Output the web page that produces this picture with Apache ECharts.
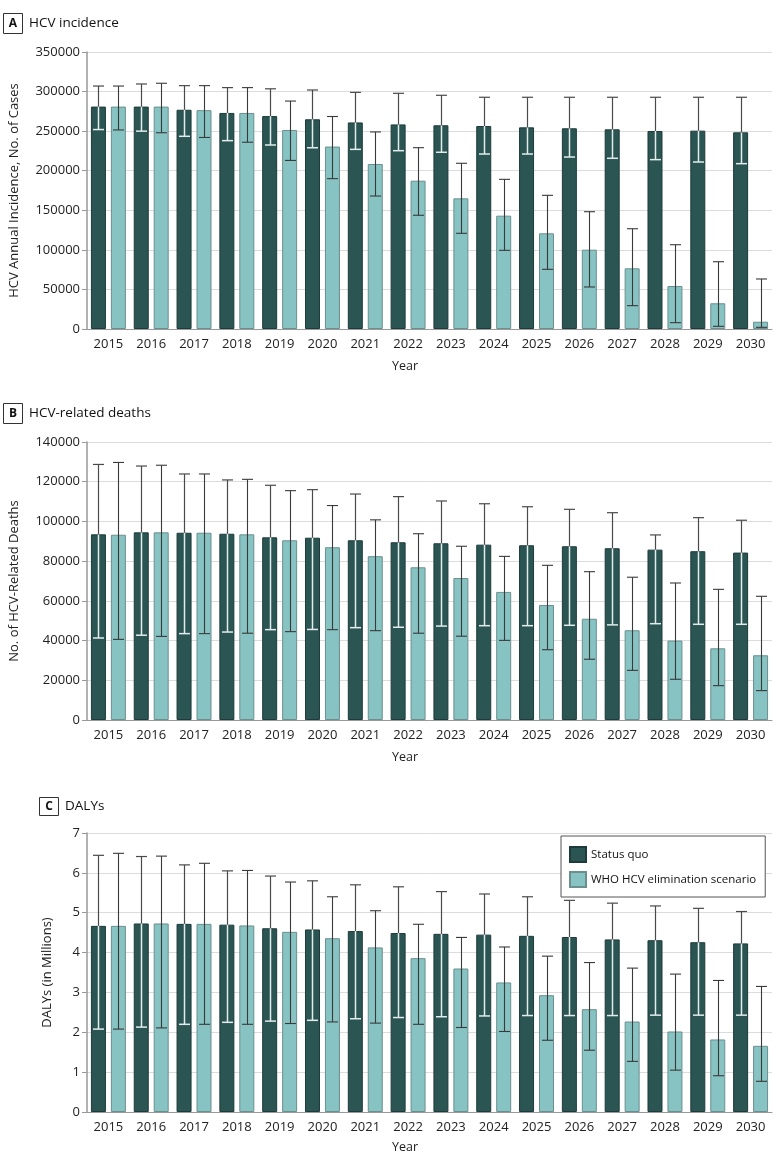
<!DOCTYPE html>
<html>
<head>
<meta charset="utf-8">
<script src="https://cdn.jsdelivr.net/npm/echarts@6/dist/echarts.min.js"></script>
<style>
html,body{margin:0;padding:0;background:#fff;}
#chart{width:780px;height:1166px;}
</style>
</head>
<body>
<div id="chart"></div>
<script>
var years = ['2015','2016','2017','2018','2019','2020','2021','2022','2023','2024','2025','2026','2027','2028','2029','2030'];

// Panel A: HCV incidence
var aSQ    = [281000, 281000, 277000, 273000, 269000, 265000, 261000, 258500, 257400, 256500, 254800, 253600, 252300, 250200, 250600, 248500];
var aSQHi  = [307000, 309600, 307500, 305000, 303500, 302000, 299000, 297800, 295300, 292800, 292800, 292800, 292800, 292800, 292800, 292800];
var aSQLo  = [252000, 250000, 243500, 238000, 232500, 229000, 227000, 225300, 223300, 221100, 221100, 217300, 215700, 214000, 211000, 208900];
var aWHO   = [281000, 281000, 276500, 273000, 251500, 230500, 208500, 187400, 165100, 143200, 120900, 100200, 76700, 54300, 32500, 9200];
var aWHOHi = [307000, 310500, 307500, 305000, 288000, 268500, 249000, 229100, 209400, 189100, 168900, 148200, 126700, 106500, 85000, 63200];
var aWHOLo = [251500, 248000, 242000, 236000, 213000, 190000, 168000, 143700, 120900, 99400, 75400, 53100, 29500, 8000, 3400, 2100];

// Panel B: HCV-related deaths
var bSQ    = [93500, 94500, 94300, 93800, 92000, 91800, 90500, 89500, 89000, 88300, 88000, 87500, 86500, 85800, 85000, 84300];
var bSQHi  = [128700, 127900, 123900, 120900, 118200, 116000, 113800, 112500, 110300, 108900, 107400, 106100, 104400, 93200, 101900, 100600];
var bSQLo  = [41300, 42700, 43500, 44300, 45500, 45600, 46500, 46700, 47300, 47500, 47500, 47700, 47900, 48500, 48200, 48200];
var bWHO   = [93300, 94500, 94300, 93500, 90500, 87000, 82500, 76900, 71500, 64500, 57900, 51000, 45200, 40000, 36100, 32600];
var bWHOHi = [129700, 128300, 123900, 121200, 115500, 108000, 100800, 93800, 87500, 82400, 77900, 74700, 71900, 69000, 65800, 62300];
var bWHOLo = [40600, 42100, 43500, 43700, 44500, 45500, 45000, 43700, 42200, 40100, 35400, 30600, 25000, 20500, 17300, 14800];

// Panel C: DALYs (millions)
var cSQ    = [4.67, 4.73, 4.72, 4.70, 4.61, 4.58, 4.54, 4.49, 4.47, 4.45, 4.42, 4.39, 4.33, 4.31, 4.26, 4.23];
var cSQHi  = [6.44, 6.41, 6.20, 6.05, 5.92, 5.80, 5.70, 5.65, 5.53, 5.47, 5.40, 5.31, 5.24, 5.17, 5.11, 5.03];
var cSQLo  = [2.08, 2.13, 2.20, 2.25, 2.28, 2.30, 2.34, 2.37, 2.39, 2.41, 2.42, 2.42, 2.42, 2.43, 2.43, 2.43];
var cWHO   = [4.67, 4.73, 4.72, 4.68, 4.52, 4.36, 4.13, 3.86, 3.60, 3.25, 2.93, 2.58, 2.27, 2.02, 1.82, 1.66];
var cWHOHi = [6.49, 6.42, 6.24, 6.06, 5.77, 5.40, 5.05, 4.71, 4.38, 4.14, 3.91, 3.75, 3.61, 3.46, 3.30, 3.15];
var cWHOLo = [2.08, 2.11, 2.20, 2.20, 2.22, 2.26, 2.23, 2.20, 2.12, 2.02, 1.80, 1.55, 1.27, 1.05, 0.91, 0.77];

var FONT = "'Open Sans', 'Noto Sans', sans-serif";
var DARK = '#2b5553', LIGHT = '#86c3c2';
var BARW = 15, OFFSET = 10;

function errData(lo, hi, v) {
  return v.map(function (val, i) { return [i, lo[i], hi[i], val]; });
}

function makeRender(offset, dark) {
  return function (params, api) {
    var x = api.value(0), lo = api.value(1), hi = api.value(2), v = api.value(3);
    var pLo = api.coord([x, lo]), pHi = api.coord([x, hi]), pV = api.coord([x, v]);
    var cx = Math.round(pLo[0] + offset) + 0.5;
    var hw = 5.5;
    var ch = [];
    var darkC = '#4a4a4a', lightC = '#e2ecec';
    if (dark) {
      ch.push({type: 'line', shape: {x1: cx, y1: pLo[1], x2: cx, y2: pV[1]}, style: {stroke: lightC, lineWidth: 1.5}});
      ch.push({type: 'line', shape: {x1: cx - hw, y1: pLo[1], x2: cx + hw, y2: pLo[1]}, style: {stroke: lightC, lineWidth: 1.5}});
      ch.push({type: 'line', shape: {x1: cx, y1: pV[1], x2: cx, y2: pHi[1]}, style: {stroke: darkC, lineWidth: 1.2}});
      ch.push({type: 'line', shape: {x1: cx - hw, y1: pHi[1], x2: cx + hw, y2: pHi[1]}, style: {stroke: darkC, lineWidth: 1.2}});
    } else {
      ch.push({type: 'line', shape: {x1: cx, y1: pLo[1], x2: cx, y2: pHi[1]}, style: {stroke: '#3a3a3a', lineWidth: 1.1}});
      ch.push({type: 'line', shape: {x1: cx - hw, y1: pLo[1], x2: cx + hw, y2: pLo[1]}, style: {stroke: '#3a3a3a', lineWidth: 1.1}});
      ch.push({type: 'line', shape: {x1: cx - hw, y1: pHi[1], x2: cx + hw, y2: pHi[1]}, style: {stroke: '#3a3a3a', lineWidth: 1.1}});
    }
    return {type: 'group', children: ch};
  };
}

var grids = [
  {left: 87, right: 8, top: 52, height: 277},
  {left: 87, right: 8, top: 442, height: 278},
  {left: 87, right: 8, top: 833, height: 279}
];

function xAx(i) {
  return {
    type: 'category', gridIndex: i, data: years, boundaryGap: true,
    axisLine: {lineStyle: {color: '#999', width: 1}},
    axisTick: {show: false},
    axisLabel: {color: '#222', fontFamily: FONT, fontSize: 13, margin: 9}
  };
}
function yAx(i, max, interval, name, gap) {
  return {
    type: 'value', gridIndex: i, min: 0, max: max, interval: interval,
    name: name, nameLocation: 'middle', nameGap: gap,
    nameTextStyle: {color: '#222', fontFamily: FONT, fontSize: 13},
    axisLine: {show: true, lineStyle: {color: '#999', width: 1.5}},
    axisTick: {show: true, length: 5, lineStyle: {color: '#999'}},
    axisLabel: {color: '#222', fontFamily: FONT, fontSize: 13, margin: 7,
      formatter: function (v) { return String(v); }},
    splitLine: {lineStyle: {color: '#dcdcdc', width: 1}}
  };
}

var series = [];
var panels = [
  [aSQ, aSQLo, aSQHi, aWHO, aWHOLo, aWHOHi],
  [bSQ, bSQLo, bSQHi, bWHO, bWHOLo, bWHOHi],
  [cSQ, cSQLo, cSQHi, cWHO, cWHOLo, cWHOHi]
];
panels.forEach(function (p, i) {
  series.push({
    name: 'Status quo', type: 'bar', xAxisIndex: i, yAxisIndex: i, data: p[0],
    barWidth: BARW, barGap: '33%',
    itemStyle: {color: DARK, borderColor: '#1d3b3a', borderWidth: 1}
  });
  series.push({
    name: 'WHO HCV elimination scenario', type: 'bar', xAxisIndex: i, yAxisIndex: i, data: p[3],
    barWidth: BARW, barGap: '33%',
    itemStyle: {color: LIGHT, borderColor: '#6a8f8e', borderWidth: 1}
  });
  series.push({
    type: 'custom', xAxisIndex: i, yAxisIndex: i, z: 5, silent: true,
    renderItem: makeRender(-OFFSET, true), data: errData(p[1], p[2], p[0])
  });
  series.push({
    type: 'custom', xAxisIndex: i, yAxisIndex: i, z: 5, silent: true,
    renderItem: makeRender(OFFSET, false), data: errData(p[4], p[5], p[3])
  });
});

function panelLabel(letter, text, bx, by, bw, bh) {
  return [
    {type: 'rect', shape: {x: bx + 0.5, y: by + 0.5, width: bw, height: bh},
      style: {fill: '#fff', stroke: '#333', lineWidth: 1}},
    {type: 'text', x: bx + bw / 2 + 0.5, y: by + bh / 2 + 0.5,
      style: {text: letter, fill: '#111', font: 'bold 12px ' + FONT, textAlign: 'center', textVerticalAlign: 'middle'}},
    {type: 'text', x: bx + bw + 7, y: by + bh / 2 + 0.5,
      style: {text: text, fill: '#111', font: '13.5px ' + FONT, textAlign: 'left', textVerticalAlign: 'middle'}}
  ];
}
function yearLabel(y) {
  return {type: 'text', x: 405, y: y,
    style: {text: 'Year', fill: '#222', font: '12.5px ' + FONT, textAlign: 'center', textVerticalAlign: 'middle'}};
}

var graphics = [].concat(
  panelLabel('A', 'HCV incidence', 3, 13, 19, 20),
  panelLabel('B', 'HCV-related deaths', 3, 403, 19, 20),
  panelLabel('C', 'DALYs', 39, 797, 19, 18),
  [yearLabel(366), yearLabel(757), yearLabel(1147)]
);

var chart = echarts.init(document.getElementById('chart'), null, {renderer: 'canvas'});
chart.setOption({
  animation: false,
  backgroundColor: '#fff',
  textStyle: {fontFamily: FONT},
  grid: grids,
  xAxis: [xAx(0), xAx(1), xAx(2)],
  yAxis: [
    yAx(0, 350000, 50000, 'HCV Annual Incidence, No. of Cases', 66),
    yAx(1, 140000, 20000, 'No. of HCV-Related Deaths', 66),
    yAx(2, 7, 1, 'DALYs (in Millions)', 33)
  ],
  legend: {
    data: ['Status quo', 'WHO HCV elimination scenario'],
    orient: 'vertical', left: 561, top: 836,
    itemWidth: 16, itemHeight: 15, itemGap: 8,
    padding: [10, 9, 9, 8],
    borderColor: '#555', borderWidth: 1, backgroundColor: '#fff',
    icon: 'rect',
    textStyle: {color: '#111', fontFamily: FONT, fontSize: 11.5},
    selectedMode: false
  },
  graphic: graphics,
  series: series
});
</script>
</body>
</html>
